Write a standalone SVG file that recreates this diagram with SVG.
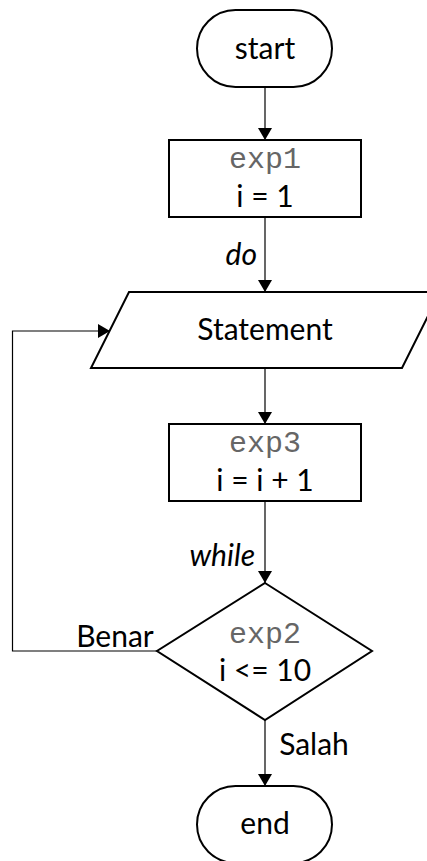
<svg xmlns="http://www.w3.org/2000/svg" width="427" height="861" viewBox="0 0 427 861">
<style>
.shape{fill:#fff;stroke:#000;stroke-width:2}
.conn{fill:none;stroke:#000;stroke-width:1.2}
.t{font-family:Lato,"Open Sans",sans-serif;font-size:30px;fill:#000;text-anchor:middle}
.m{font-family:"Liberation Mono","Courier New",monospace;font-size:30px;fill:#666;text-anchor:middle}
.i{font-style:italic;text-anchor:end}
</style>
<defs>
<marker id="arr" markerWidth="12" markerHeight="14" refX="12" refY="7" orient="auto" markerUnits="userSpaceOnUse">
<path d="M0,0 L12,7 L0,14 Z" fill="#000"/>
</marker>
</defs>
<rect width="427" height="861" fill="#fff"/>
<g id="connectors">
<line class="conn" x1="265" y1="87" x2="265" y2="140" marker-end="url(#arr)"/>
<line class="conn" x1="265" y1="217" x2="265" y2="292" marker-end="url(#arr)"/>
<line class="conn" x1="265" y1="368" x2="265" y2="424" marker-end="url(#arr)"/>
<line class="conn" x1="265" y1="501" x2="265" y2="583" marker-end="url(#arr)"/>
<line class="conn" x1="265" y1="720" x2="265" y2="786" marker-end="url(#arr)"/>
<polyline class="conn" points="157,651 12.5,651 12.5,331 110,331" marker-end="url(#arr)"/>
<text class="t i" x="257" y="265">do</text>
<text class="t i" x="255" y="566">while</text>
<text class="t" x="115" y="647">Benar</text>
<text class="t" x="314" y="755">Salah</text>
</g>
<g id="start">
<rect class="shape" x="197" y="10" width="135" height="77" rx="38.5"/>
<text class="t" x="265" y="59">start</text>
</g>
<g id="exp1">
<rect class="shape" x="169" y="140" width="192" height="77"/>
<text class="m" x="265" y="168">exp1</text>
<text class="t" x="265" y="207">i = 1</text>
</g>
<g id="statement">
<polygon class="shape" points="129,292 440,292 402,368 91,368"/>
<text class="t" x="265" y="340">Statement</text>
</g>
<g id="exp3">
<rect class="shape" x="169" y="424" width="192" height="77"/>
<text class="m" x="265" y="452">exp3</text>
<text class="t" x="265" y="491">i = i + 1</text>
</g>
<g id="exp2">
<polygon class="shape" points="265,583 372,651 265,720 157,651"/>
<text class="m" x="265" y="643">exp2</text>
<text class="t" x="265" y="681">i &lt;= 10</text>
</g>
<g id="end">
<rect class="shape" x="197" y="786" width="135" height="77" rx="38.5"/>
<text class="t" x="265" y="834">end</text>
</g>
</svg>
